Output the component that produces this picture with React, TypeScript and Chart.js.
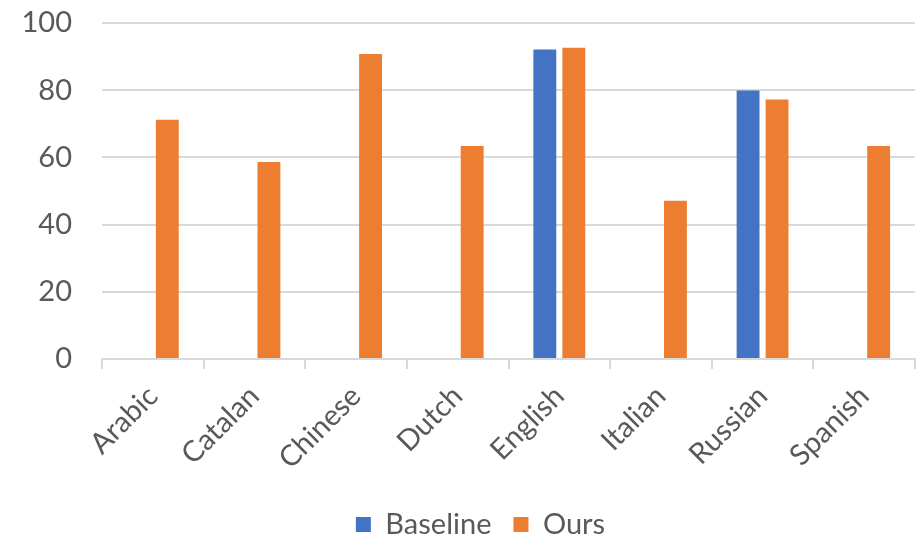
import React, { useEffect, useRef } from "react";
import { Chart, registerables } from "chart.js";

Chart.register(...registerables);

const languages = ["Arabic", "Catalan", "Chinese", "Dutch", "English", "Italian", "Russian", "Spanish"];
const baselineScores: (number | null)[] = [null, null, null, null, 92.1, null, 79.9, null];
const oursScores = [71.2, 58.6, 90.8, 63.4, 92.6, 47.1, 77.2, 63.4];
const yTicks = [0, 20, 40, 60, 80, 100];

const TEXT = "#595959";
const GRID = "#D9D9D9";
const FONT = "Lato, 'Open Sans', sans-serif";
const FONT_SIZE = 29;

// Nudges the legend box after layout so it sits under the plot like an office-style chart.
const legendShift = {
  id: "legendShift",
  afterLayout(chart: any) {
    const lg = chart.legend;
    if (!lg) return;
    const dx = 23;
    const dy = 14;
    lg.left += dx;
    lg.right += dx;
    lg.top += dy;
    lg.bottom += dy;
    if (lg.legendHitBoxes) {
      lg.legendHitBoxes.forEach((h: any) => {
        h.left += dx;
        h.top += dy;
      });
    }
  },
};

export default function App() {
  const canvasRef = useRef<HTMLCanvasElement | null>(null);

  useEffect(() => {
    if (!canvasRef.current) return;
    const chart = new Chart(canvasRef.current, {
      type: "bar",
      data: {
        labels: languages,
        datasets: [
          { label: "Baseline", data: baselineScores, backgroundColor: "#4472C4" },
          { label: "Ours", data: oursScores, backgroundColor: "#ED7D31" },
        ],
      },
      options: {
        animation: false,
        responsive: true,
        maintainAspectRatio: false,
        layout: { autoPadding: false, padding: { top: 23, right: 5, left: 0, bottom: 0 } },
        datasets: { bar: { categoryPercentage: 0.57, barPercentage: 0.79 } },
        plugins: {
          tooltip: { enabled: false },
          legend: {
            position: "bottom",
            labels: {
              color: TEXT,
              font: { family: FONT, size: FONT_SIZE },
              boxWidth: 15,
              boxHeight: 15,
              padding: 22,
            },
          },
        },
        scales: {
          x: {
            afterFit: (scale: any) => {
              scale.height = 115;
            },
            grid: {
              drawOnChartArea: false,
              drawTicks: true,
              tickLength: 10,
              color: GRID,
              lineWidth: 2,
            },
            border: { color: GRID, width: 2 },
            ticks: {
              color: TEXT,
              font: { family: FONT, size: FONT_SIZE },
              minRotation: 45,
              maxRotation: 45,
              padding: 10,
            },
          },
          y: {
            min: 0,
            max: 100,
            afterBuildTicks: (scale: any) => {
              scale.ticks = yTicks.map((v) => ({ value: v }));
            },
            afterFit: (scale: any) => {
              scale.width = 102;
              // the wide label gap should not push the plot down from the top edge
              scale.paddingTop = 0;
              scale.paddingBottom = 0;
            },
            grid: { color: GRID, lineWidth: 2, drawTicks: false },
            border: { display: false },
            ticks: {
              color: TEXT,
              font: { family: FONT, size: FONT_SIZE },
              padding: 30,
            },
          },
        },
      },
      plugins: [legendShift],
    });
    return () => chart.destroy();
  }, []);

  return (
    <div style={{ position: "absolute", left: 0, top: 0, width: 920, height: 535, background: "#fff" }}>
      <canvas ref={canvasRef} />
    </div>
  );
}
